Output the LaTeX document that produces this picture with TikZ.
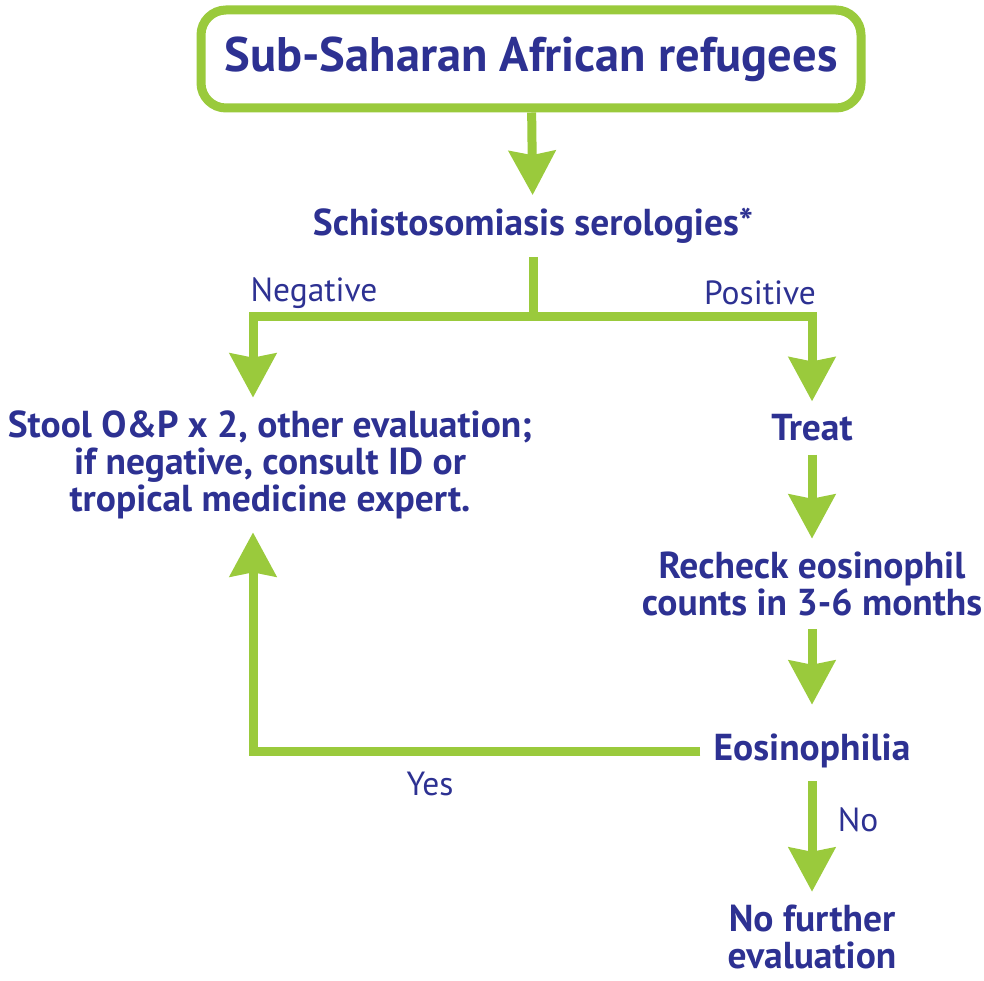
\documentclass[tikz,border=0pt]{standalone}
\usepackage{fontspec}
\setmainfont{PT Sans}
\usetikzlibrary{calc, shapes, arrows.meta}

\definecolor{leaf}{RGB}{154,202,60}
\definecolor{ink}{RGB}{45,49,146}

\begin{document}
\begin{tikzpicture}[x=1pt,y=-1pt]
\tikzstyle{line} = [draw=leaf, line width=9pt, -{Stealth[length=44pt,width=46pt,inset=4pt]}]
\tikzstyle{link} = [draw=leaf, line width=9pt]
\tikzstyle{title}=[rectangle,rounded corners=25pt,draw=leaf,line width=9pt,minimum width=660pt,minimum height=98pt,text=ink,font=\fontsize{48.5}{56}\selectfont\bfseries]
\tikzstyle{stepbox}=[text=ink,inner sep=13pt,align=center,font=\fontsize{37.5}{37}\selectfont\bfseries]
\tikzstyle{answer}=[text=ink,inner sep=0pt,font=\fontsize{33.5}{36}\selectfont]
\useasboundingbox (0,0) rectangle (984,981);
\node[title] (refugees) at (531,59) {Sub-Saharan African refugees};
\node[stepbox] (serology) at (533,226) {Schistosomiasis serologies*};
\node[stepbox] (stool) at (270,465) {Stool O\&P x 2, other evaluation;\\if negative, consult ID or\\tropical medicine expert.};
\node[stepbox] (treat) at (812,428) {Treat};
\node[stepbox] (recheck) at (812,584) {Recheck eosinophil\\counts in 3-6 months};
\node[stepbox] (eosin) at (812,751) {Eosinophilia};
\node[stepbox, inner sep=3pt] (nofurther) at (812,937) {No further\\evaluation};
\node[answer] (negative) at (314,293) {Negative};
\node[answer] (positive) at (760,293) {Positive};
\node[answer] (yes) at (430,784) {Yes};
\node[answer] (no) at (858,820) {No};
\coordinate (split) at (533,316);
\coordinate (negx) at (253,0);
\path [line] (refugees) -- (serology);
\path [link] (serology) -- (split);
\path [line] (split) -| (negx |- stool.north);
\path [line] (split) -| (treat);
\path [line] (treat) -- (recheck);
\path [line, shorten >=16pt] (recheck) -- (eosin);
\path [line, shorten >=10pt] (eosin) -- (nofurther);
\path [line] (eosin.west) -| (negx |- stool.south);
\end{tikzpicture}
\end{document}
